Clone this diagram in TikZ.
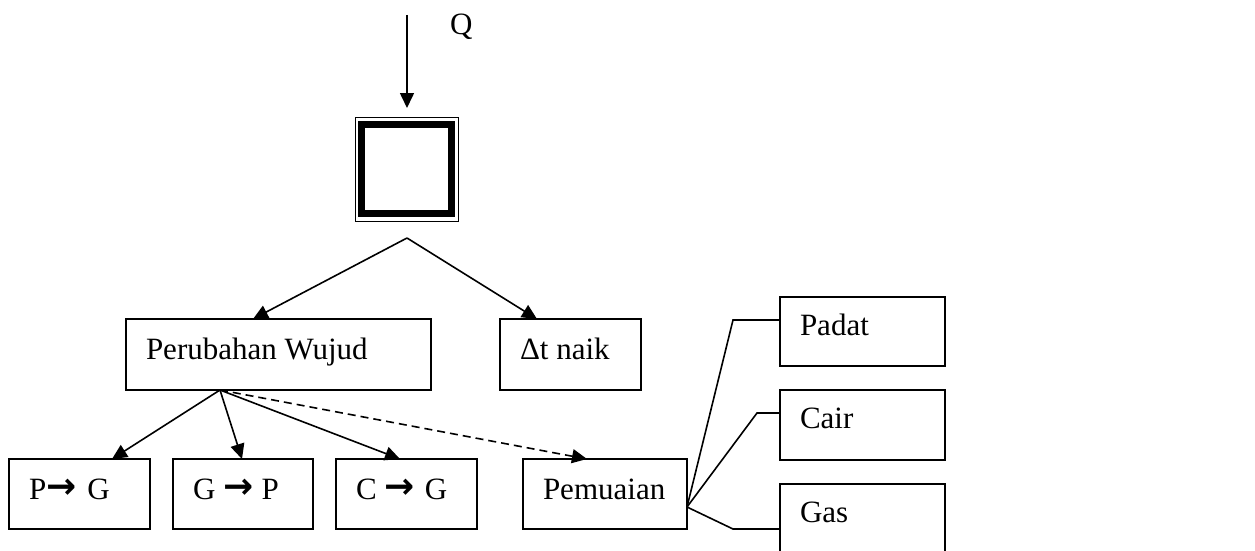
\documentclass[tikz,border=0pt]{standalone}
\usepackage{fontspec}
\setmainfont{Liberation Serif}
\newfontfamily\arrowfont{DejaVu Sans}
\usetikzlibrary{arrows.meta}
\newcommand{\rarr}{\raisebox{1pt}{\arrowfont\bfseries\fontsize{36}{36}\selectfont →}}
\tikzset{
  box/.style={draw, line width=1.6pt, rectangle, anchor=north west, inner sep=0pt, outer sep=0pt, minimum width=#1},
  lbl/.style={anchor=base west, inner sep=0pt, outer sep=0pt, font=\fontsize{31}{36}\selectfont},
  conn/.style={line width=1.6pt},
  arr/.style={conn, -{Triangle[length=15pt,width=14pt]}},
  darr/.style={arr, dash pattern=on 8pt off 5pt},
}
\begin{document}
\begin{tikzpicture}[x=1pt,y=-1pt]
\useasboundingbox (0,0) rectangle (1255,551);
\clip (0,0) rectangle (1255,551);
% top
\coordinate (qtop) at (407,15);
\coordinate (qtip) at (407,108);
\node[lbl] (q) at (450,35) {Q};
\node[draw, line width=1pt, anchor=north west, inner sep=0pt, outer sep=0pt, minimum width=103pt, minimum height=104pt] (dbox) at (355,117) {};
\node[draw, line width=7pt, anchor=north west, inner sep=0pt, outer sep=0pt, minimum width=90pt, minimum height=89.5pt] (dboxin) at (361.5,124) {};
\draw[arr] (qtop) -- (qtip);
% level 2
\coordinate (apex) at (407,238);
\node[box=305pt, minimum height=71pt] (pw) at (126,319) {};
\node[lbl] (pwt) at (146,359) {Perubahan Wujud};
\node[box=141pt, minimum height=71pt] (dt) at (500,319) {};
\node[lbl] (dtt) at (520,359) {Δt naik};
\coordinate (pwin) at (253,319);
\coordinate (dtin) at (537,319);
\draw[arr] (apex) -- (pwin);
\draw[arr] (apex) -- (dtin);
% level 3
\coordinate (pwout) at (220,390);
\node[box=141pt, minimum height=70pt] (pg) at (9,459) {};
\node[lbl] (pgt) at (29,499) {P\hspace{0pt}\rarr\hspace{11pt}G};
\node[box=140pt, minimum height=70pt] (gp) at (173,459) {};
\node[lbl] (gpt) at (193,499) {G\hspace{8pt}\rarr\hspace{8pt}P};
\node[box=141pt, minimum height=70pt] (cg) at (336,459) {};
\node[lbl] (cgt) at (356,499) {C\hspace{8pt}\rarr\hspace{10pt}G};
\node[box=164pt, minimum height=70pt] (pm) at (523,459) {};
\node[lbl] (pmt) at (543,499) {Pemuaian};
\coordinate (pgin) at (112,459);
\coordinate (gpin) at (242,459);
\coordinate (cgin) at (400,459);
\coordinate (pmin) at (587,459);
\draw[arr] (pwout) -- (pgin);
\draw[arr] (pwout) -- (gpin);
\draw[arr] (pwout) -- (cgin);
\draw[darr] (pwout) -- (pmin);
% right column
\node[box=165pt, minimum height=69pt] (pd) at (780,297) {};
\node[lbl] (pdt) at (800,335) {Padat};
\node[box=165pt, minimum height=70pt] (cr) at (780,390) {};
\node[lbl] (crt) at (800,428) {Cair};
\node[box=165pt, minimum height=100pt] (gs) at (780,484) {};
\node[lbl] (gst) at (800,522) {Gas};
\coordinate (fan) at (687,507);
\coordinate (pdk) at (733,320);
\coordinate (crk) at (757,413);
\coordinate (gsk) at (733,529);
\draw[conn] (fan) -- (pdk) -- (pdk -| pd.west);
\draw[conn] (fan) -- (crk) -- (crk -| cr.west);
\draw[conn] (fan) -- (gsk) -- (gsk -| gs.west);
\end{tikzpicture}
\end{document}
